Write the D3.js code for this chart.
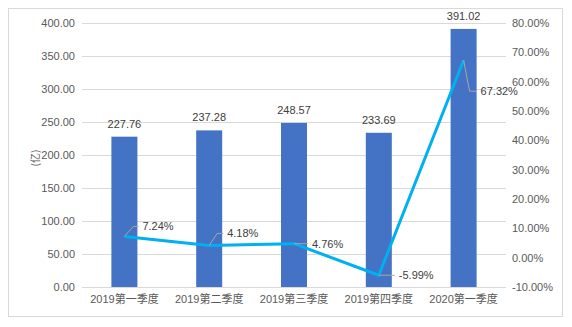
<!DOCTYPE html>
<html>
<head>
<meta charset="utf-8">
<script src="https://cdn.jsdelivr.net/npm/d3@7"></script>
<style>
  html, body { margin: 0; padding: 0; background: #fff; }
  svg { display: block; }
  text { font-family: "Liberation Sans", Arial, "Noto Sans CJK SC", sans-serif; }
</style>
</head>
<body>
<svg id="chart" width="572" height="327"></svg>
<script>
// Quarterly revenue (亿) and year-on-year growth (%)
const categories = ["2019第一季度", "2019第二季度", "2019第三季度", "2019第四季度", "2020第一季度"];
const revenue = [227.76, 237.28, 248.57, 233.69, 391.02];
const growth = [7.24, 4.18, 4.76, -5.99, 67.32];
const leftTicks = [0, 50, 100, 150, 200, 250, 300, 350, 400];
const rightTicks = [-10, 0, 10, 20, 30, 40, 50, 60, 70, 80];

// Leader-line offsets for growth labels: [dx1, dy1, dx2] from the point
const labelLeaders = [
  [9, -10, 5],
  [8, -12, 6],
  [0, 0, 14],
  [0, 0, 16],
  [6, 31, 7]
];

// Plain hyphen for negative numbers
const locale = d3.formatLocale({ decimal: ".", thousands: ",", grouping: [3], currency: ["", ""], minus: "-" });
const fmt2 = locale.format(".2f");

const svg = d3.select("#chart");
const plot = { left: 82, right: 506, top: 23, bottom: 287 };

// Outer frame
svg.append("rect")
  .attr("x", 8.5).attr("y", 8.5)
  .attr("width", 554).attr("height", 308)
  .attr("fill", "#fff").attr("stroke", "#d9d9d9").attr("stroke-width", 1);

const x = d3.scaleBand().domain(categories).range([plot.left, plot.right]).paddingInner(0).paddingOuter(0);
const yL = d3.scaleLinear().domain([0, 400]).range([plot.bottom, plot.top]);
const yR = d3.scaleLinear().domain([-10, 80]).range([plot.bottom, plot.top]);

// Gridlines
svg.append("g").selectAll("line").data(leftTicks).join("line")
  .attr("x1", plot.left).attr("x2", plot.right)
  .attr("y1", d => Math.round(yL(d)) + 0.5).attr("y2", d => Math.round(yL(d)) + 0.5)
  .attr("stroke", "#d9d9d9").attr("stroke-width", 1);

// Left axis labels
const leftAxis = d3.axisLeft(yL).tickValues(leftTicks).tickFormat(fmt2).tickSize(0).tickPadding(7);
svg.append("g").attr("transform", `translate(${plot.left},0)`).call(leftAxis)
  .call(g => g.select(".domain").remove())
  .selectAll("text").attr("fill", "#595959").style("font-size", "11px")
  .style("font-family", "'Liberation Sans', Arial, sans-serif");

// Right axis labels
const rightAxis = d3.axisRight(yR).tickValues(rightTicks).tickFormat(d => fmt2(d) + "%").tickSize(0).tickPadding(6);
svg.append("g").attr("transform", `translate(${plot.right},0)`).call(rightAxis)
  .call(g => g.select(".domain").remove())
  .selectAll("text").attr("fill", "#595959").style("font-size", "11px")
  .style("font-family", "'Liberation Sans', Arial, sans-serif");

// Category axis labels
const bottomAxis = d3.axisBottom(x).tickSize(0).tickPadding(8);
svg.append("g").attr("transform", `translate(0,${plot.bottom})`).call(bottomAxis)
  .call(g => g.select(".domain").remove())
  .selectAll("text").attr("fill", "#595959").style("font-size", "11px")
  .style("font-family", "'Liberation Sans', Arial, 'Noto Sans CJK SC', sans-serif");

// Left axis title
svg.append("text")
  .attr("transform", `translate(34,158) rotate(-90)`)
  .attr("text-anchor", "middle").attr("dominant-baseline", "central")
  .attr("fill", "#595959").style("font-size", "10px")
  .style("font-family", "'Noto Sans CJK SC', sans-serif")
  .text("(亿)");

// Bars
const barW = 26;
svg.append("g").selectAll("rect").data(revenue).join("rect")
  .attr("x", (d, i) => x(categories[i]) + x.bandwidth() / 2 - barW / 2)
  .attr("y", d => yL(d))
  .attr("width", barW)
  .attr("height", d => plot.bottom - yL(d))
  .attr("fill", "#4472c4");

// Bar value labels
svg.append("g").selectAll("text").data(revenue).join("text")
  .attr("x", (d, i) => x(categories[i]) + x.bandwidth() / 2)
  .attr("y", d => yL(d) - 9)
  .attr("text-anchor", "middle")
  .attr("fill", "#404040").style("font-size", "11px")
  .text(d => fmt2(d));

// Growth line
const cx = i => x(categories[i]) + x.bandwidth() / 2;
const line = d3.line().x((d, i) => cx(i)).y(d => yR(d));
svg.append("path").datum(growth)
  .attr("d", line)
  .attr("fill", "none").attr("stroke", "#00b0f0").attr("stroke-width", 3)
  .attr("stroke-linejoin", "round");

// Growth labels with leader lines
const lg = svg.append("g");
growth.forEach((v, i) => {
  const px = cx(i), py = yR(v);
  const [dx1, dy1, dx2] = labelLeaders[i];
  const p1x = px + dx1, p1y = py + dy1, p2x = p1x + dx2;
  lg.append("path")
    .attr("d", `M${px},${py}L${p1x},${p1y}L${p2x},${p1y}`)
    .attr("fill", "none").attr("stroke", "#a6a6a6").attr("stroke-width", 1);
  lg.append("text")
    .attr("x", p2x + 4).attr("y", p1y)
    .attr("dominant-baseline", "central")
    .attr("fill", "#404040").style("font-size", "11px")
    .text(fmt2(v) + "%");
});
</script>
</body>
</html>
